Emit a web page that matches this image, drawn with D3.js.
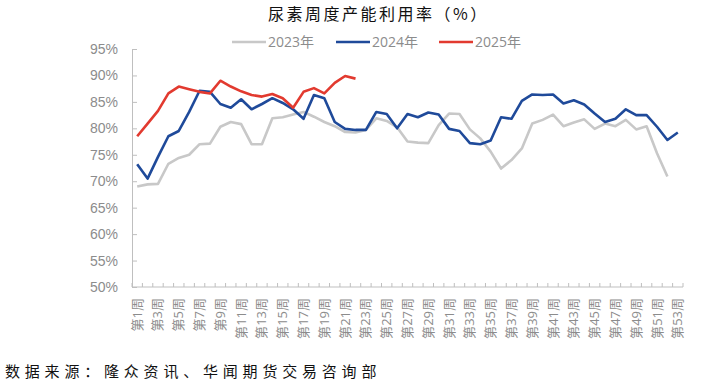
<!DOCTYPE html>
<html>
<head>
<meta charset="utf-8">
<script src="https://cdn.jsdelivr.net/npm/d3@7"></script>
<style>
  body { margin: 0; background: #fff; }
  svg { display: block; font-family: "Open Sans", "Noto Sans CJK SC", sans-serif; }
</style>
</head>
<body>
<svg id="chart" width="704" height="386"></svg>
<script>
// weeks 1..53
const weeks = d3.range(1, 54).map(i => "第" + i + "周");
const yTicks = [50, 55, 60, 65, 70, 75, 80, 85, 90, 95];

const v2023 = [69.0, 69.4, 69.5, 73.3, 74.4, 75.0, 77.0, 77.1, 80.3, 81.2,
  80.8, 77.0, 77.0, 81.9, 82.1, 82.6, 83.1, 82.2, 81.2, 80.4,
  79.3, 79.2, 79.7, 81.9, 81.4, 80.2, 77.5, 77.3, 77.2, 80.6,
  82.8, 82.7, 79.8, 78.1, 75.6, 72.4, 74.0, 76.2, 80.9, 81.6,
  82.6, 80.4, 81.1, 81.7, 79.9, 80.9, 80.4, 81.6, 79.8, 80.4,
  75.3, 70.9];
const v2024 = [73.2, 70.5, 74.6, 78.5, 79.5, 83.1, 87.1, 86.9, 84.6, 83.9,
  85.5, 83.6, 84.6, 85.7, 84.8, 83.6, 81.8, 86.3, 85.7, 81.2,
  79.9, 79.7, 79.7, 83.1, 82.7, 80.0, 82.7, 82.1, 83.0, 82.6,
  79.9, 79.5, 77.2, 77.0, 77.7, 82.1, 81.8, 85.2, 86.4, 86.3,
  86.4, 84.7, 85.3, 84.5, 82.8, 81.2, 81.8, 83.6, 82.5, 82.5,
  80.3, 77.8, 79.2];
const v2025 = [78.5, 80.9, 83.3, 86.6, 87.9, 87.4, 86.9, 86.6, 89.0, 87.9,
  87.0, 86.3, 86.0, 86.5, 85.7, 83.9, 86.9, 87.6, 86.6, 88.6,
  89.9, 89.4];

const seriesNames = ["2023年", "2024年", "2025年"];
const seriesColors = ["#c8c8c8", "#1f4a9a", "#e23a2f"];
const seriesValues = [v2023, v2024, v2025];

const svg = d3.select("#chart");
const mLeft = 132, mRight = 683, mTop = 49, mBottom = 287;

const x = d3.scaleBand().domain(weeks).range([mLeft, mRight]).padding(0);
const y = d3.scaleLinear().domain([50, 95]).range([mBottom, mTop]);

// title
svg.append("text")
  .attr("x", 268).attr("y", 20)
  .attr("font-family", "Noto Sans CJK SC")
  .attr("font-size", 16)
  .attr("letter-spacing", 2.5)
  .attr("fill", "#111")
  .text("尿素周度产能利用率（%）");

// y axis
const yAxis = svg.append("g")
  .attr("transform", `translate(${mLeft},0)`)
  .call(d3.axisLeft(y).tickValues(yTicks).tickFormat(d => d + "%")
    .tickSizeInner(-5).tickSizeOuter(0).tickPadding(14));
yAxis.select(".domain").attr("stroke", "#bfbfbf");
yAxis.selectAll(".tick line").attr("stroke", "#bfbfbf");
yAxis.selectAll("text").attr("fill", "#8c8c8c").attr("font-size", 14);

// x axis: line + boundary ticks + odd-week labels
const xg = svg.append("g");
xg.append("line")
  .attr("x1", mLeft).attr("x2", mRight)
  .attr("y1", mBottom).attr("y2", mBottom)
  .attr("stroke", "#bfbfbf");
xg.selectAll("line.tk")
  .data(weeks.concat(["end"])).join("line")
  .attr("class", "tk")
  .attr("x1", (d, i) => mLeft + i * x.step()).attr("x2", (d, i) => mLeft + i * x.step())
  .attr("y1", mBottom).attr("y2", mBottom - 4)
  .attr("stroke", "#bfbfbf");
xg.selectAll("text")
  .data(weeks.filter((d, i) => i % 2 === 0)).join("text")
  .attr("transform", d => `translate(${x(d) + x.bandwidth() / 2 + 4.5},${mBottom + 11}) rotate(-90)`)
  .attr("text-anchor", "end")
  .attr("font-size", 13)
  .attr("fill", "#8c8c8c")
  .text(d => d);

// lines
const line = d3.line()
  .x((d, i) => x(weeks[i]) + x.bandwidth() / 2)
  .y(d => y(d));

seriesValues.forEach((vals, k) => {
  svg.append("path")
    .datum(vals)
    .attr("d", line)
    .attr("fill", "none")
    .attr("stroke", seriesColors[k])
    .attr("stroke-width", 2.6)
    .attr("stroke-linejoin", "round");
});

// legend
const legendX = [232, 336, 439];
const lg = svg.append("g").selectAll("g")
  .data(seriesNames).join("g")
  .attr("transform", (d, i) => `translate(${legendX[i]},42)`);
lg.append("line")
  .attr("x1", 0).attr("x2", 34).attr("y1", 0).attr("y2", 0)
  .attr("stroke", (d, i) => seriesColors[i]).attr("stroke-width", 2.6);
lg.append("text")
  .attr("x", 36).attr("y", 5)
  .attr("font-size", 14)
  .attr("fill", "#8c8c8c")
  .text(d => d);

// source
svg.append("text")
  .attr("x", 5).attr("y", 377)
  .attr("font-family", "Noto Sans CJK SC")
  .attr("font-size", 15)
  .attr("letter-spacing", 4.8)
  .attr("fill", "#111")
  .text("数据来源：隆众资讯、华闻期货交易咨询部");
</script>
</body>
</html>
